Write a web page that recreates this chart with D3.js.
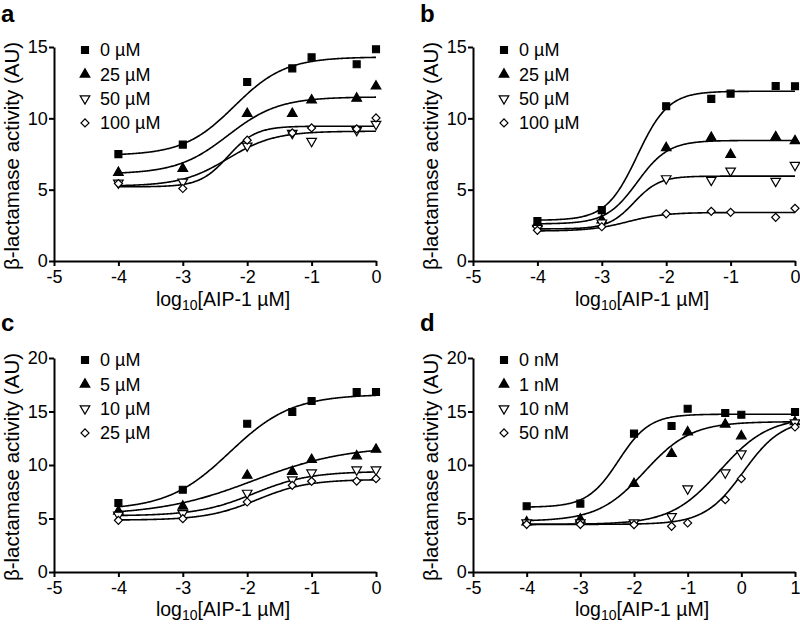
<!DOCTYPE html>
<html><head><meta charset="utf-8">
<script src="https://cdn.jsdelivr.net/npm/d3@7"></script>
<style>
body{margin:0;background:#fff;}
text{font-family:"Liberation Sans",Arial,sans-serif;fill:#000;}
</style></head>
<body>
<svg id="chart" width="800" height="625"></svg>
<script>
// ---- data ----
const xConc = [-4, -3, -2, -1.3, -1, -0.3, 0];
const xConcD = [-4, -3, -2, -1.3, -1, -0.3, 0, 1];
const xTicks = [-5, -4, -3, -2, -1, 0];
const xTicksD = [-5, -4, -3, -2, -1, 0, 1];
const yTicks15 = [0, 5, 10, 15];
const yTicks20 = [0, 5, 10, 15, 20];

const aLegend = ["0 µM", "25 µM", "50 µM", "100 µM"];
const a0   = [7.49, 8.16, 12.55, 13.5, 14.28, 13.79, 14.84];
const a25  = [6.2, 6.48, 10.33, 10.33, 11.27, 11.4, 12.25];
const a50  = [5.48, 5.55, 8.07, 8.96, 8.4, 9.17, 9.59];
const a100 = [5.43, 5.08, 8.47, 8.98, 9.33, 9.26, 10.03];
// fit params: bottom, top, logEC50, hill
const aFit = [[7.4, 14.3, -2.2, 1.1], [6.1, 11.5, -2.3, 1.1], [5.25, 9.1, -2.3, 1.2], [5.2, 9.45, -2.3, 2.0]];

const bLegend = ["0 µM", "25 µM", "50 µM", "100 µM"];
const b0   = [2.8, 3.57, 10.85, 11.36, 11.73, 12.27, 12.25];
const b25  = [2.6, 2.87, 7.93, 8.65, 7.46, 8.7, 8.42];
const b50  = [2.3, 2.68, 5.78, 5.67, 6.32, 5.6, 6.72];
const b100 = [2.15, 2.4, 3.31, 3.48, 3.41, 3.06, 3.69];
const bFit = [[2.85, 11.9, -2.45, 1.8], [2.6, 8.45, -2.45, 1.8], [2.25, 5.95, -2.5, 2.2], [2.1, 3.4, -2.6, 1.5]];

const cLegend = ["0 µM", "5 µM", "10 µM", "25 µM"];
const c0  = [6.45, 7.69, 13.86, 14.95, 15.98, 16.82, 16.82];
const c5  = [5.67, 6.14, 9.03, 9.38, 10.5, 10.84, 11.46];
const c10 = [5.33, 5.48, 7.38, 8.63, 9.28, 9.56, 9.56];
const c25 = [4.83, 4.98, 6.54, 8.1, 8.47, 8.5, 8.72];
const cFit = [[5.8, 16.6, -2.27, 0.9], [5.3, 11.8, -1.9, 0.6], [5.25, 9.4, -1.9, 1.0], [4.85, 8.65, -1.85, 1.1]];

const dLegend = ["0 nM", "1 nM", "10 nM", "50 nM"];
const d0  = [6.14, 6.39, 12.93, 13.64, 15.26, 14.86, 14.7, 14.95];
const d1  = [4.67, 4.92, 8.25, 11.06, 13.08, 13.8, 12.71, 14.02];
const d10 = [4.61, 4.61, 4.61, 5.2, 7.79, 9.28, 11.06, 13.96];
const d50 = [4.45, 4.45, 4.42, 4.27, 4.58, 6.76, 8.72, 13.55];
const dFit = [[6.05, 14.75, -2.29, 1.5], [4.75, 14.05, -1.8, 1.0], [4.45, 14.5, -0.4, 0.95], [4.45, 14.3, 0.04, 1.2]];

const yTitle = "β-lactamase activity (AU)";

// ---- drawing ----
const svg = d3.select("#chart");
const shapes = ["square", "tri", "invtri", "diamond"];

function marker(g, kind, x, y) {
  let sym, rot = 0, fill = "#000";
  if (kind === "square") { sym = d3.symbol(d3.symbolSquare, 48); }
  else if (kind === "tri") { sym = d3.symbol(d3.symbolTriangle, 40); }
  else if (kind === "invtri") { sym = d3.symbol(d3.symbolTriangle, 40); rot = 180; fill = "#fff"; }
  else { sym = d3.symbol(d3.symbolSquare, 32); rot = 45; fill = "#fff"; }
  g.append("path").attr("d", sym())
    .attr("transform", `translate(${x},${y}) rotate(${rot})`)
    .attr("fill", fill).attr("stroke", "#000").attr("stroke-width", 1.2);
}

function panel(opt) {
  const x = d3.scaleLinear().domain([opt.xTicks[0], opt.xTicks[opt.xTicks.length - 1]]).range([opt.x0, opt.x1]);
  const y = d3.scaleLinear().domain([0, opt.yTicks[opt.yTicks.length - 1]]).range([opt.yb, opt.yt]);
  const g = svg.append("g");

  // curves
  const line = d3.line().x(d => x(d[0])).y(d => y(d[1]));
  const xmin = opt.xs[0], xmax = opt.xs[opt.xs.length - 1];
  opt.fits.forEach(p => {
    const pts = d3.range(0, 301).map(i => {
      const xv = xmin + (xmax - xmin) * i / 300;
      return [xv, p[0] + (p[1] - p[0]) / (1 + Math.pow(10, (p[2] - xv) * p[3]))];
    });
    g.append("path").attr("d", line(pts)).attr("fill", "none").attr("stroke", "#000").attr("stroke-width", 1.6);
  });

  // points
  opt.series.forEach((s, k) => {
    s.forEach((v, i) => marker(g, shapes[k], x(opt.xs[i]), y(v)));
  });

  // axes
  const xa = g.append("g").attr("transform", `translate(0,${opt.yb})`)
    .call(d3.axisBottom(x).tickValues(opt.xTicks).tickFormat(d3.format("d")).tickSize(5).tickPadding(2).tickSizeOuter(0));
  const ya = g.append("g").attr("transform", `translate(${opt.x0},0)`)
    .call(d3.axisLeft(y).tickValues(opt.yTicks).tickFormat(d3.format("d")).tickSize(5).tickSizeOuter(0));
  [xa, ya].forEach(a => {
    a.select(".domain").attr("stroke", "#000").attr("stroke-width", 2);
    a.selectAll(".tick line").attr("stroke", "#000").attr("stroke-width", 2);
    a.selectAll(".tick text").attr("font-size", 18).attr("font-family", "Liberation Sans, Arial, sans-serif").attr("fill", "#000");
  });
  xa.selectAll(".tick text").attr("dy", "0.84em").text(d => d < 0 ? "-" + Math.abs(d) : d);
  ya.selectAll(".tick text").attr("dx", "0.1em");

  // legend
  opt.legend.forEach((t, k) => {
    const ly = opt.legY + k * 24.3;
    marker(g, shapes[k], opt.x0 + 31, ly);
    g.append("text").attr("x", opt.x0 + 46).attr("y", ly).attr("dy", "0.36em")
      .attr("font-size", 18).text(t);
  });

  // titles
  const xt = g.append("text").attr("x", (opt.x0 + opt.x1) / 2 + 8).attr("y", opt.yb + opt.xtOff)
    .attr("text-anchor", "middle").attr("font-size", 19.5);
  xt.append("tspan").text("log");
  xt.append("tspan").attr("font-size", 14).attr("dy", 4).text("10");
  xt.append("tspan").attr("dy", -4).text("[AIP-1 µM]");

  g.append("text").attr("transform", `translate(${opt.x0 - 35},${(opt.yb + opt.yt) / 2 + 2}) rotate(-90)`)
    .attr("text-anchor", "middle").attr("font-size", 20.5).text(yTitle);

  g.append("text").attr("x", opt.lx).attr("y", opt.ly).attr("font-size", 24).attr("font-weight", "bold").text(opt.letter);
}

panel({letter: "a", lx: 1, ly: 22, x0: 54, x1: 376, yb: 261, yt: 47, xTicks: xTicks, yTicks: yTicks15, xtOff: 45,
  xs: xConc, series: [a0, a25, a50, a100], fits: aFit, legend: aLegend, legY: 50});
panel({letter: "b", lx: 420, ly: 22, x0: 473, x1: 795, yb: 261, yt: 47, xTicks: xTicks, yTicks: yTicks15, xtOff: 45,
  xs: xConc, series: [b0, b25, b50, b100], fits: bFit, legend: bLegend, legY: 50});
panel({letter: "c", lx: 1, ly: 331, x0: 54, x1: 376, yb: 572, yt: 358, xTicks: xTicks, yTicks: yTicks20, xtOff: 44,
  xs: xConc, series: [c0, c5, c10, c25], fits: cFit, legend: cLegend, legY: 360});
panel({letter: "d", lx: 420, ly: 331, x0: 473, x1: 795, yb: 572, yt: 358, xTicks: xTicksD, yTicks: yTicks20, xtOff: 44,
  xs: xConcD, series: [d0, d1, d10, d50], fits: dFit, legend: dLegend, legY: 360});
</script>
</body></html>
